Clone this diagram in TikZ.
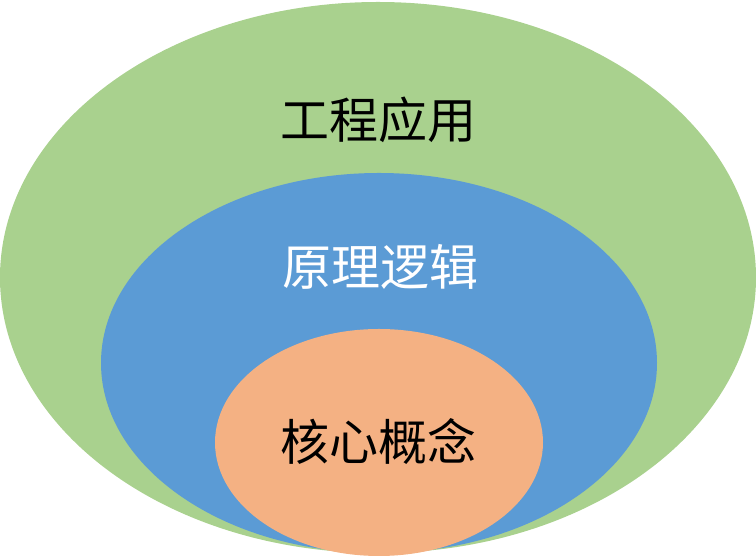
\documentclass[tikz,border=0pt]{standalone}
\usepackage{fontspec}
\newfontfamily\cjk{Noto Sans CJK SC}
\usetikzlibrary{shapes.geometric}

\definecolor{layergreen}{HTML}{A9D18E}
\definecolor{layerblue}{HTML}{5B9BD5}
\definecolor{layerorange}{HTML}{F4B183}

\tikzset{
    layer/.style={ellipse, inner sep=0pt, draw=none},
    layertext/.style={font=\cjk\fontsize{49}{53}\selectfont, inner sep=0pt}
}

\begin{document}
\begin{tikzpicture}[x=1pt, y=1pt]
    % Frame of the picture
    \useasboundingbox (0,0) rectangle (756,556);

    % Outer layer: engineering
    \node[layer, fill=layergreen, minimum width=756pt, minimum height=551pt] (Outer) at (378,278.5) {};

    % Middle layer: principles
    \node[layer, fill=layerblue, minimum width=556pt, minimum height=380pt] (Middle) at (379,193) {};

    % Inner layer: core concepts
    \node[layer, fill=layerorange, minimum width=328pt, minimum height=227pt] (Inner) at (379,113.5) {};

    % Labels of the three layers
    \node[layertext, text=black] (OuterText) at (378,436) {工程应用};
    \node[layertext, text=white] (MiddleText) at (380,289) {原理逻辑};
    \node[layertext, text=black] (InnerText) at (378,114) {核心概念};
\end{tikzpicture}
\end{document}
